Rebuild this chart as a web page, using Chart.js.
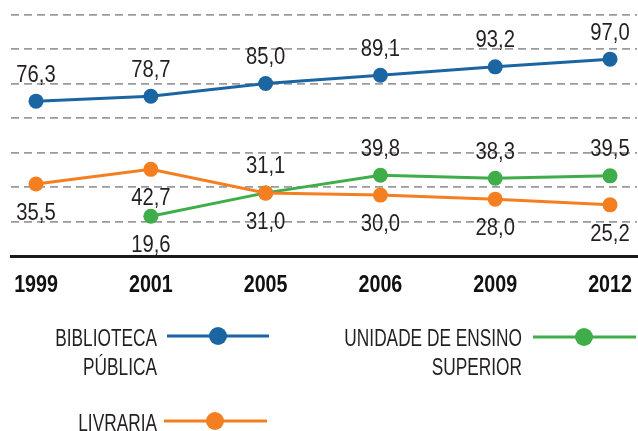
<!DOCTYPE html>
<html>
<head>
<meta charset="utf-8">
<script src="https://cdn.jsdelivr.net/npm/chart.js@4.4.1/dist/chart.umd.min.js"></script>
<style>
    html, body { margin: 0; padding: 0; background: #fff; }
    #wrap { width: 638px; height: 431px; }
</style>
</head>
<body>
<div id="wrap"><canvas id="chart" width="638" height="431"></canvas></div>
<script>
const years = ['1999', '2001', '2005', '2006', '2009', '2012'];
const biblioteca = [76.3, 78.7, 85.0, 89.1, 93.2, 97.0];
const livraria = [35.5, 42.7, 31.0, 30.0, 28.0, 25.2];
const ensinoSuperior = [null, 19.6, 31.1, 39.8, 38.3, 39.5];

// no narrow font installed, so text is squeezed horizontally to look condensed
const FONT = '"Liberation Sans", Arial, sans-serif';
const TEXT = '#231f20';

// where each legend entry sits (dataset order)
const legendSlots = [
    { textRight: 157, baseline: 346, lineY: 336, lineFrom: 167, lineTo: 269, marker: 218 },
    { textRight: 157, baseline: 431, lineY: 421, lineFrom: 164, lineTo: 267, marker: 215 },
    { textRight: 522, baseline: 346, lineY: 337, lineFrom: 533, lineTo: 636, marker: 584 }
];

function toPoints(values) {
    return values.map(function(v, i) { return { x: i, y: v }; });
}

function fmt(v) {
    return v.toFixed(1).replace('.', ',');
}

function squeezedText(ctx, text, x, y, squeeze) {
    ctx.save();
    ctx.translate(x, y);
    ctx.scale(squeeze, 1);
    ctx.fillText(text, 0, 0);
    ctx.restore();
}

const valueLabels = {
    id: 'valueLabels',
    afterDatasetsDraw: function(chart) {
        const ctx = chart.ctx;
        ctx.save();
        ctx.font = '23px ' + FONT;
        ctx.fillStyle = TEXT;
        ctx.textAlign = 'center';
        ctx.textBaseline = 'alphabetic';
        chart.data.datasets.forEach(function(ds, i) {
            chart.getDatasetMeta(i).data.forEach(function(pt, j) {
                const v = ds.data[j].y;
                if (v === null) return;
                const below = ds.labelBelow.indexOf(j) !== -1;
                squeezedText(ctx, fmt(v), pt.x, pt.y + (below ? 36 : -19.5), 0.88);
            });
        });
        ctx.restore();
    }
};

const yearLabels = {
    id: 'yearLabels',
    afterDraw: function(chart) {
        const ctx = chart.ctx;
        const xScale = chart.scales.x;
        ctx.save();
        ctx.font = 'bold 24px ' + FONT;
        ctx.fillStyle = '#111';
        ctx.textAlign = 'center';
        ctx.textBaseline = 'alphabetic';
        years.forEach(function(year, i) {
            squeezedText(ctx, year, xScale.getPixelForValue(i), chart.chartArea.bottom + 36, 0.82);
        });
        ctx.restore();
    }
};

const customLegend = {
    id: 'customLegend',
    afterDraw: function(chart) {
        const ctx = chart.ctx;
        chart.data.datasets.forEach(function(ds, i) {
            const slot = legendSlots[i];
            ctx.save();
            ctx.strokeStyle = ds.borderColor;
            ctx.lineWidth = 3;
            ctx.beginPath();
            ctx.moveTo(slot.lineFrom, slot.lineY);
            ctx.lineTo(slot.lineTo, slot.lineY);
            ctx.stroke();
            ctx.fillStyle = ds.borderColor;
            ctx.beginPath();
            ctx.arc(slot.marker, slot.lineY, 9, 0, Math.PI * 2);
            ctx.fill();

            ctx.fillStyle = TEXT;
            ctx.font = '24px ' + FONT;
            ctx.textAlign = 'right';
            ctx.textBaseline = 'alphabetic';
            ds.label.forEach(function(line, k) {
                squeezedText(ctx, line, slot.textRight, slot.baseline + k * 29, 0.72);
            });
            ctx.restore();
        });
    }
};

new Chart(document.getElementById('chart'), {
    type: 'line',
    data: {
        datasets: [{
            label: ['BIBLIOTECA', 'PÚBLICA'],
            data: toPoints(biblioteca),
            borderColor: '#1c65a3',
            backgroundColor: '#1c65a3',
            labelBelow: []
        }, {
            label: ['LIVRARIA'],
            data: toPoints(livraria),
            borderColor: '#f47f21',
            backgroundColor: '#f47f21',
            labelBelow: [0, 1, 2, 3, 4, 5]
        }, {
            label: ['UNIDADE DE ENSINO', 'SUPERIOR'],
            data: toPoints(ensinoSuperior),
            borderColor: '#3fae4a',
            backgroundColor: '#3fae4a',
            labelBelow: [1]
        }]
    },
    options: {
        responsive: false,
        animation: false,
        devicePixelRatio: 1,
        layout: { autoPadding: false, padding: { left: 11, right: 1, top: 14.5, bottom: 175 } },
        plugins: {
            legend: { display: false },
            tooltip: { enabled: false }
        },
        elements: {
            line: { borderWidth: 3, tension: 0 },
            point: { radius: 7.5, hoverRadius: 7.5, borderWidth: 0 }
        },
        scales: {
            x: {
                type: 'linear',
                min: -0.218,
                max: 5.235,
                afterBuildTicks: function(scale) {
                    scale.ticks = years.map(function(y, i) { return { value: i }; });
                },
                grid: { display: false, drawTicks: false, tickLength: 0 },
                border: { display: true, color: '#1a1a1a', width: 3 },
                ticks: { display: false }
            },
            y: {
                min: 0,
                max: 119,
                ticks: { display: false, stepSize: 17 },
                border: { display: false, dash: [8, 5] },
                grid: {
                    drawTicks: false,
                    tickLength: 0,
                    lineWidth: 1.8,
                    color: function(c) {
                        return c.tick && c.tick.value === 0 ? 'rgba(0,0,0,0)' : '#9b9b9b';
                    }
                }
            }
        }
    },
    plugins: [valueLabels, yearLabels, customLegend]
});
</script>
</body>
</html>
